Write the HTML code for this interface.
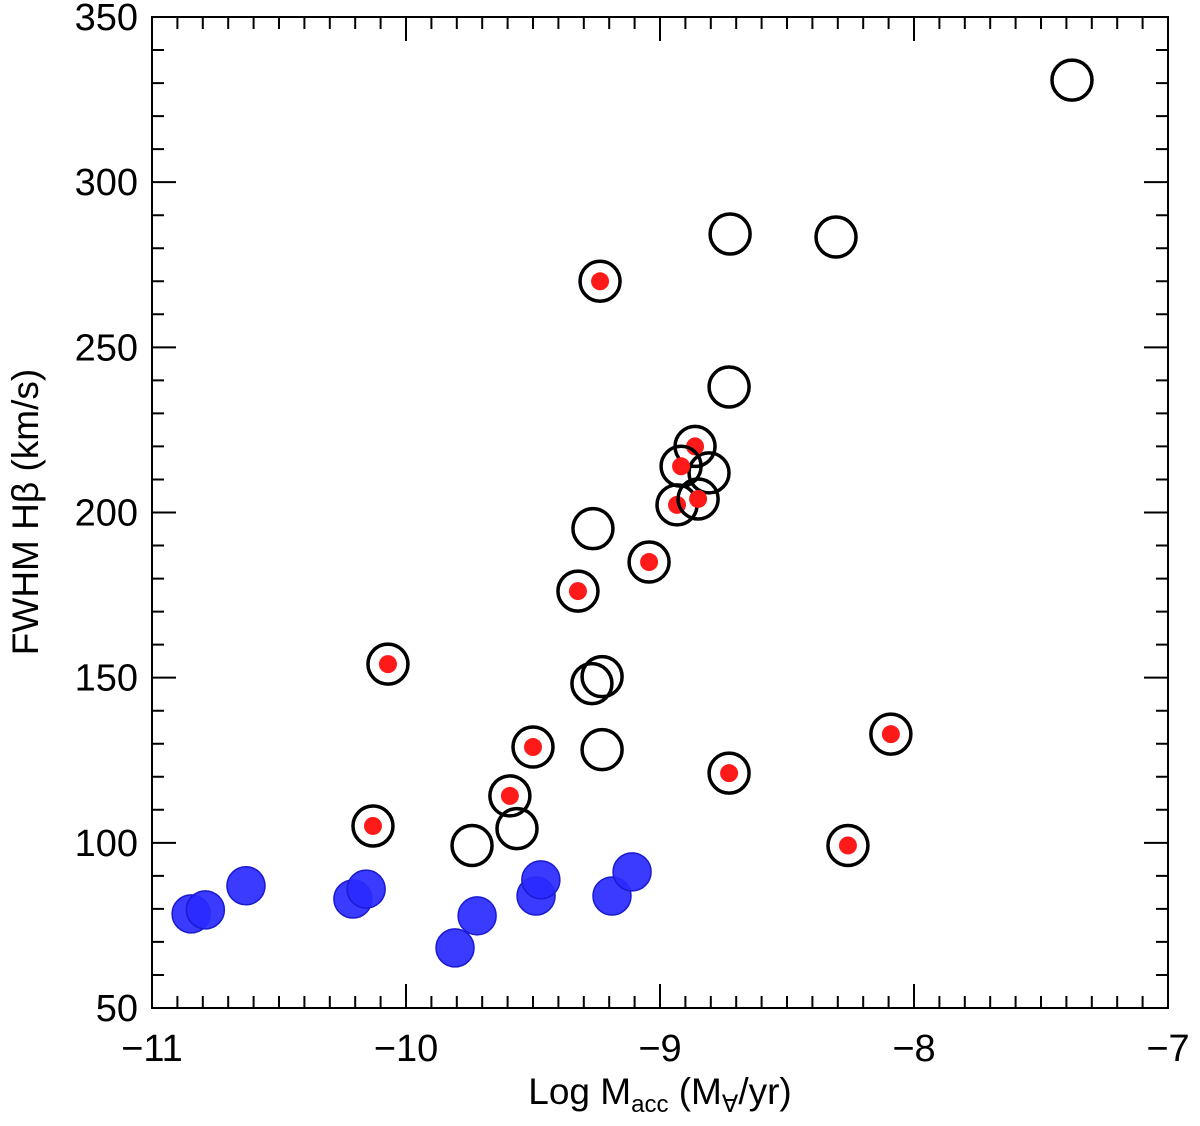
<!DOCTYPE html>
<html><head><meta charset="utf-8"><style>
body{margin:0;background:#fff}
svg text{font-family:"Liberation Sans",sans-serif;fill:#000}
</style></head><body>
<svg id="chart" width="1200" height="1121" xmlns="http://www.w3.org/2000/svg">
<g id="axes"></g>
<g id="marks"></g>
<text x="660" y="1104" font-size="37" text-anchor="middle">Log M<tspan font-size="24" dy="8">acc</tspan><tspan dy="-8"> (M</tspan><tspan font-size="24" dy="8">∀</tspan><tspan dy="-8">/yr)</tspan></text>
<text transform="translate(38,512) rotate(-90)" font-size="37" text-anchor="middle">FWHM Hβ (km/s)</text>
</svg>
<script>
const xTicks=[-11,-10,-9,-8,-7];
const yTicks=[50,100,150,200,250,300,350];
const openX=[-7.378,-8.724,-8.307,-8.728,-8.807,-9.264,-9.268,-9.228,-9.228,-9.563,-9.74];
const openY=[330.9,284.3,283.4,238,212,195.1,148.2,150.3,128.2,104.3,99.2];
const redX=[-9.236,-8.862,-8.917,-8.933,-8.85,-9.043,-9.323,-10.071,-9.5,-9.591,-10.13,-8.728,-8.091,-8.26];
const redY=[270,220,214,202.3,204.1,185,176.2,154.1,129,114.2,105.1,121.1,132.9,99.2];
const blueX=[-10.846,-10.79,-10.63,-10.209,-10.157,-9.807,-9.72,-9.488,-9.469,-9.189,-9.11];
const blueY=[78.5,79.7,87,83.0,86,68.2,77.9,83.9,88.8,83.9,91.2];
const L=152,R=1168,T=17,B=1008;
const sx=v=>L+(v+11)/4*(R-L);
const sy=v=>B-(v-50)/300*(B-T);
const NS="http://www.w3.org/2000/svg";
function mk(tag,at,parent){const e=document.createElementNS(NS,tag);for(const k in at)e.setAttribute(k,at[k]);parent.appendChild(e);return e;}
const ax=document.getElementById('axes');
const box=mk('rect',{x:L,y:T,width:R-L,height:B-T,fill:'none',stroke:'#000','stroke-width':2},ax);


let d='';
for(let i=0;i<=40;i++){const x=sx(-11+i*0.1);const len=i%10==0?24:12;d+=`M${x},${B}v${-len}M${x},${T}v${len}`;}
for(let i=0;i<=30;i++){const y=sy(50+i*10);const len=i%5==0?24:12;d+=`M${L},${y}h${len}M${R},${y}h${-len}`;}
const tk=mk('path',{d:d,stroke:'#000','stroke-width':2,fill:'none'},ax);


xTicks.forEach(v=>{const t=mk('text',{x:sx(v),y:1061,'font-size':38,'text-anchor':'middle'},ax);t.textContent=(v<0?'\u2212'+(-v):v);

});
yTicks.forEach(v=>{const t=mk('text',{x:138,y:sy(v)+13,'font-size':38,'text-anchor':'end'},ax);t.textContent=v;

});
const mg=document.getElementById('marks');
blueX.forEach((v,i)=>{const c=mk('circle',{cx:sx(v),cy:sy(blueY[i]),r:19,fill:'#2a2aff',stroke:'#1a1ad0','stroke-width':1.5,'fill-opacity':0.92},mg);

});
openX.forEach((v,i)=>{const c=mk('circle',{cx:sx(v),cy:sy(openY[i]),r:20,fill:'none',stroke:'#000','stroke-width':3.5},mg);

});
redX.forEach((v,i)=>{const c=mk('circle',{cx:sx(v),cy:sy(redY[i]),r:20,fill:'none',stroke:'#000','stroke-width':3.5},mg);


const r=mk('circle',{cx:sx(v),cy:sy(redY[i]),r:9,fill:'#ff1a1a'},mg);

});
</script>
</body></html>
